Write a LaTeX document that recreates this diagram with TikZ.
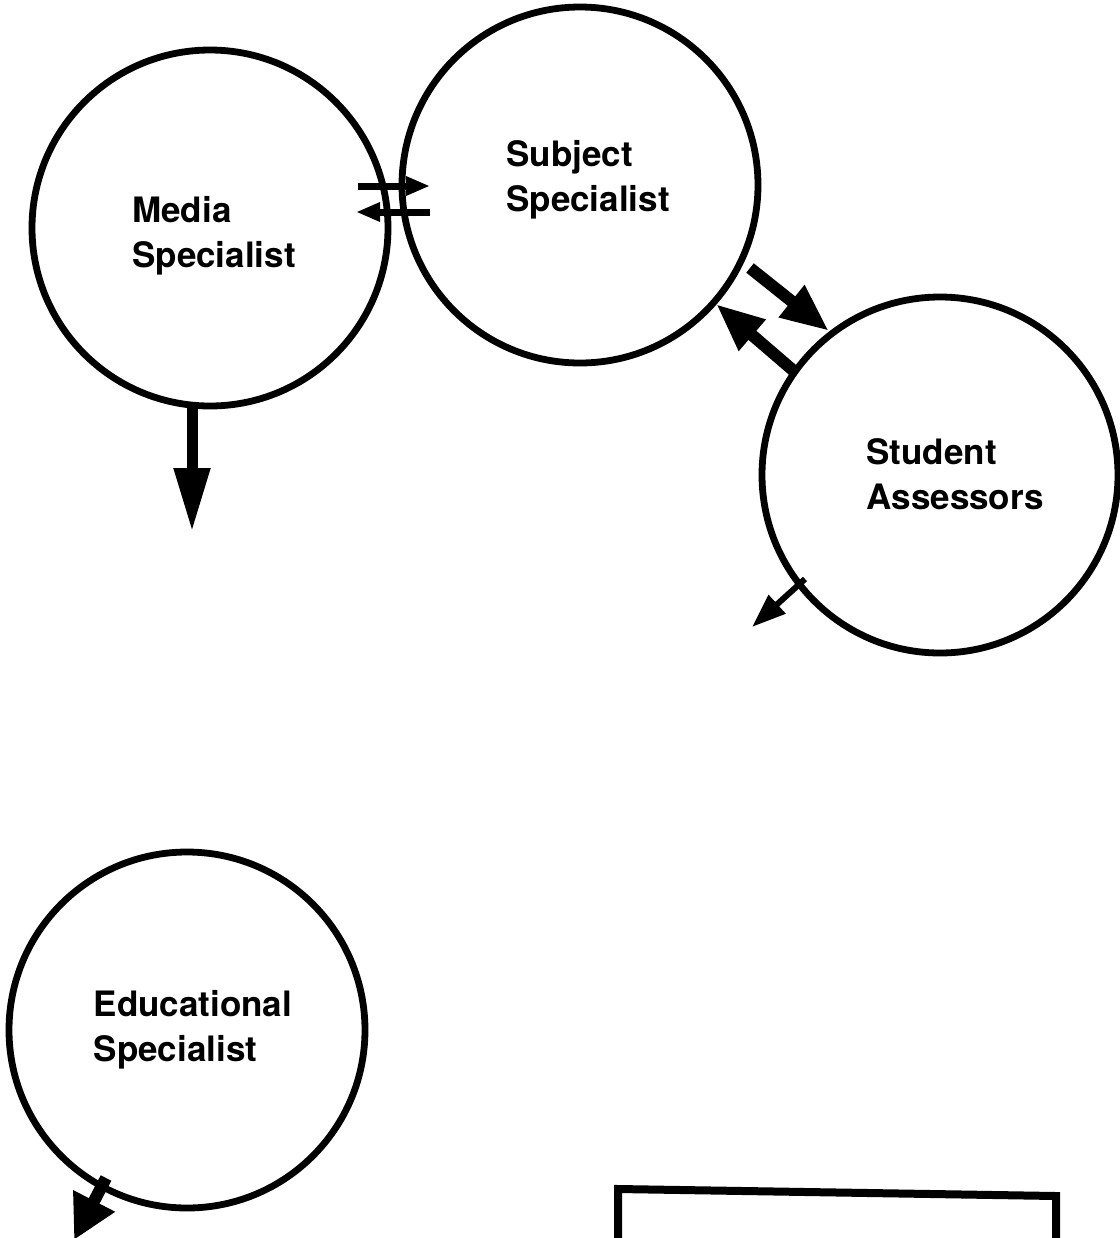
\documentclass[tikz,border=0pt]{standalone}
\usepackage{fontspec}
\setmainfont{TeX Gyre Heros}
\usetikzlibrary{arrows.meta}
\begin{document}
\begin{tikzpicture}[x=0.5pt,y=-0.5pt,
  role/.style={circle,draw=black,line width=3.4pt,inner sep=0pt,minimum size=178pt},
  rolename/.style={align=left,inner sep=0pt,font=\bfseries\fontsize{17.5}{22.5}\selectfont},
  bigarrow/.style={line width=5.5pt,-{Triangle[length=32pt,width=17pt]}},
  midarrow/.style={line width=6pt,-{Triangle[length=24pt,width=19pt]}},
  eduarrow/.style={line width=6pt,-{Triangle[length=22pt,width=22pt]}},
  thinarrow/.style={line width=3pt,-{Triangle[length=17pt,width=12pt]}},
  pairarrow/.style={line width=3.5pt,-{Triangle[length=12pt,width=9pt]}}]
\useasboundingbox (0,0) rectangle (1120,1238);
\fill[white] (0,0) rectangle (1120,1238);
\node[role] (media) at (210,228) {};
\node[role] (subj) at (580,185) {};
\node[role] (stud) at (940,475) {};
\node[role] (edu) at (187,1030) {};
\node[rolename] (mediat) at (214,236) {Media\\Specialist};
\node[rolename] (subjt) at (588,180) {Subject\\Specialist};
\node[rolename] (studt) at (955,474) {Student\\Assessors};
\node[rolename] (edut) at (193,1030) {Educational\\Specialist};
% media <-> subject
\coordinate (p1s) at (358,186); \coordinate (p1e) at (430,186);
\coordinate (p2s) at (430,212); \coordinate (p2e) at (356,212);
\draw[pairarrow] (p1s) -- (p1e);
\draw[pairarrow] (p2s) -- (p2e);
% media down
\coordinate (m1) at (192,405); \coordinate (m2) at (192,532);
\draw[bigarrow] (m1) -- (m2);
% subject <-> student
\coordinate (s1) at (750,268); \coordinate (s2) at (829,331);
\coordinate (t1) at (795,372); \coordinate (t2) at (716,304);
\draw[midarrow] (s1) -- (s2);
\draw[midarrow] (t1) -- (t2);
% student small arrow
\coordinate (u1) at (805,579); \coordinate (u2) at (752,627);
\draw[thinarrow] (u1) -- (u2);
% educational arrow
\coordinate (e1) at (106,1178); \coordinate (e2) at (74,1240);
\draw[eduarrow] (e1) -- (e2);
% box at bottom
\coordinate (b1) at (618,1245); \coordinate (b2) at (618,1189);
\coordinate (b3) at (1056,1196); \coordinate (b4) at (1056,1245);
\draw[line width=4pt] (b1) -- (b2) -- (b3) -- (b4);
\end{tikzpicture}
\end{document}
